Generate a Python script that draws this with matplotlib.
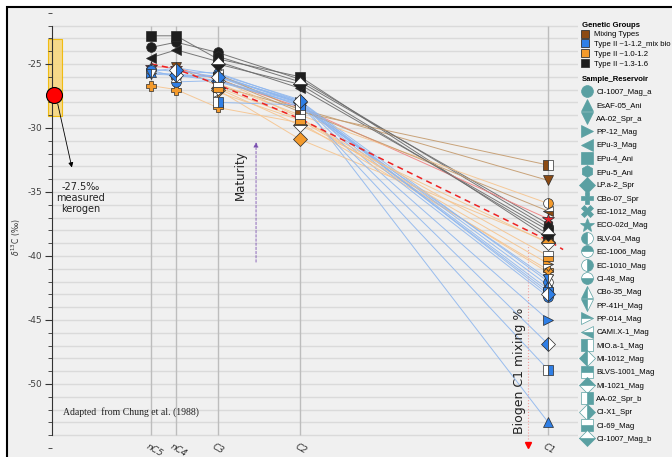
import matplotlib.pyplot as plt
import numpy as np
from matplotlib.lines import Line2D
from matplotlib.patches import Rectangle
from matplotlib.ticker import MultipleLocator

# Positions des gaz (1/n carbone)
carbons = ["nC5", "nC4", "C3", "C2", "C1"]
inv_n = [1 / 5, 1 / 4, 1 / 3, 1 / 2, 1.0]

groups = ["Mixing Types", "Type II ~1-1.2_mix bio", "Type II ~1.0-1.2", "Type II ~1.3-1.6"]
group_colors = {"mix": "#8c4a12", "blue": "#2f7fe6", "orange": "#f39a2c", "black": "#1e1e1e", "red": "#e8212b"}
line_colors = {"mix": "#c49a6c", "blue": "#8fb7ee", "orange": "#f6c48e", "black": "#6a6a6a", "red": "#f08080"}

samples = ["CI-1007_Mag_a", "EsAF-05_Ani", "AA-02_Spr_a", "PP-12_Mag", "EPu-3_Mag", "EPu-4_Ani",
           "EPu-5_Ani", "LP.a-2_Spr", "CBo-07_Spr", "EC-1012_Mag", "ECO-02d_Mag", "BLV-04_Mag",
           "EC-1006_Mag", "EC-1010_Mag", "CI-48_Mag", "CBo-35_Mag", "PP-41H_Mag", "PP-014_Mag",
           "CAMI.X-1_Mag", "MIO.a-1_Mag", "MI-1012_Mag", "BLVS-1001_Mag", "MI-1021_Mag",
           "AA-02_Spr_b", "CI-X1_Spr", "CI-69_Mag", "CI-1007_Mag_b"]
markers = ["o", "^", "v", ">", "<", "s", "h", "D", "P", "X", "*", "o", "o", "o", "o",
           "^", "v", ">", "<", "s", "D", "s", "D", "s", "D", "s", "D"]
fills = ["full"] * 11 + ["left", "top", "right", "bottom", "left", "left", "top", "bottom",
                         "left", "left", "top", "top", "right", "right", "bottom", "bottom"]
sample_group = ["black", "blue", "mix", "blue", "black", "black", "black", "orange", "orange",
                "orange", "red", "blue", "blue", "orange", "blue", "blue", "blue", "orange",
                "mix", "mix", "blue", "blue", "orange", "blue", "blue", "orange", "black"]

nan = np.nan
# d13C : nC5, nC4, C3, C2, C1
d13c = [
    [-23.7, -23.3, -24.1, -26.2, -37.8],
    [-25.6, -25.3, -25.8, -27.8, -53.0],
    [nan, -25.2, -26.7, -28.5, -34.1],
    [-25.7, -25.8, -26.0, -28.0, -45.0],
    [-24.5, -23.9, -24.8, -26.9, -38.0],
    [-22.8, -22.8, -24.6, -26.0, -38.6],
    [nan, nan, -24.4, -26.4, -37.5],
    [nan, nan, -27.0, -30.9, -38.9],
    [-26.7, -27.0, -28.4, -29.6, -41.1],
    [nan, nan, -26.1, -29.2, -41.3],
    [-25.2, -25.3, -26.2, -28.4, -37.1],
    [-25.4, -25.6, -25.7, -27.9, -42.0],
    [-25.5, -26.0, -25.9, -28.1, -42.6],
    [nan, nan, -26.5, -29.0, -35.9],
    [nan, -26.4, -26.3, -28.2, -43.2],
    [nan, nan, -25.9, -28.0, -42.3],
    [-25.8, nan, -26.0, -28.3, -41.8],
    [nan, nan, -27.2, -29.4, -40.6],
    [nan, nan, -25.8, -28.6, -36.5],
    [nan, nan, -26.1, -28.75, -32.9],
    [nan, -25.9, -26.3, -28.0, -46.9],
    [nan, nan, -26.4, -28.1, -42.8],
    [nan, nan, -26.9, -29.8, -39.0],
    [nan, nan, -28.0, -28.2, -48.9],
    [nan, -25.5, -26.0, -27.9, -43.0],
    [nan, nan, -26.8, -29.3, -40.0],
    [nan, nan, -25.0, -26.6, -38.3],
]

# courbe de reference (tirets rouges)
ref_x = [0.2, 0.25, 1 / 3, 0.5, 1.0, 1.03]
ref_y = [-25.0, -25.4, -26.6, -29.3, -38.8, -39.5]

kerogen = -27.4
kerogen_range = (-29.06, -23.05)

teal = "#5aa0a2"
bg = "#f0f0f0"

fig = plt.figure(figsize=(6.72, 4.57), dpi=100)
fig.patch.set_facecolor("white")
fig.add_artist(Rectangle((7 / 672, -0.01), 1, 1 - 7 / 457 + 0.01, transform=fig.transFigure,
                         facecolor=bg, edgecolor="black", lw=1.5, zorder=0))

ax = fig.add_axes([7 / 672, 7 / 457, 571 / 672, 443 / 457])
ax.set_facecolor("none")
ax.set_xlim(-0.091, 1.06)
ax.set_ylim(-55.16, -20.55)

for s in ["top", "right", "bottom"]:
    ax.spines[s].set_visible(False)
ax.spines["left"].set_position(("data", 0))
ax.spines["left"].set_bounds(-54, -22)
ax.spines["left"].set_color("#333333")
ax.set_xticks([])
ax.set_yticks(np.arange(-50, -24, 5))
ax.yaxis.set_minor_locator(MultipleLocator(1))
ax.tick_params(axis="y", which="major", length=5, labelsize=6.5, labelcolor="#404040",
               color="#333333", pad=2)
ax.tick_params(axis="y", which="minor", length=3, color="#333333")
ax.set_yticklabels([str(v) for v in np.arange(-50, -24, 5)])

ax.hlines(np.arange(-54, -21), 0, 1.06, color="#dadada", lw=1, zorder=0)
ax.vlines(inv_n, -54, -22, color="#bdbdbd", lw=1, zorder=0)

for x, lab in zip(inv_n, carbons):
    ax.text(x - 0.005, -54.5, lab, rotation=-30, ha="left", va="top", fontsize=6.5,
            style="italic", color="#333333", rotation_mode="anchor")

ax.text(-0.072, -38.5, r"$\delta^{13}$C (‰)", rotation=90, fontsize=5.5, ha="center", va="center",
        color="#333333")

# kerogène
ax.add_patch(Rectangle((-0.008, kerogen_range[0]), 0.028, kerogen_range[1] - kerogen_range[0],
                       facecolor="#f7d77e", edgecolor="#f0b800", lw=0.8, alpha=0.9, zorder=1))
ax.plot([0.003], [kerogen], "o", ms=11.5, mfc="red", mec="black", mew=0.8, zorder=5)
ax.annotate("", xy=(0.041, -33.3), xytext=(0.010, -27.9),
            arrowprops=dict(arrowstyle="-|>", color="black", lw=0.6, mutation_scale=7))
ax.text(0.057, -34.2, "-27.5‰\nmeasured\nkerogen", ha="center", va="top", fontsize=7,
        linespacing=1.15, color="#222222")

# lignes et points des échantillons
for vals, g in zip(d13c, sample_group):
    xs = np.array(inv_n)
    ys = np.array(vals)
    ok = ~np.isnan(ys)
    ax.plot(xs[ok], ys[ok], "-", color=line_colors[g], lw=0.7, alpha=0.9, zorder=2)
for vals, m, fs, g in zip(d13c, markers, fills, sample_group):
    xs = np.array(inv_n)
    ys = np.array(vals)
    ok = ~np.isnan(ys)
    ax.plot(xs[ok], ys[ok], ls="none", marker=m, fillstyle=fs, ms=7 if m != "*" else 9,
            mfc=group_colors[g], markerfacecoloralt="white", mec="#2a2a2a", mew=0.5, zorder=4)

ax.plot(ref_x, ref_y, ls=(0, (4, 3)), color="#ee2222", lw=1.1, zorder=3)

# maturité
ax.annotate("", xy=(0.411, -30.9), xytext=(0.411, -40.7),
            arrowprops=dict(arrowstyle="-|>", color="#7a4fb0", lw=0.6, ls=(0, (3, 2)),
                            mutation_scale=7))
ax.text(0.379, -33.7, "Maturity", rotation=90, ha="center", va="center", fontsize=8.5, color="#222222")

# biogène
ax.vlines(0.96, -54.3, -39.2, color="#f2a0a0", lw=0.8, linestyles=":", zorder=1)
ax.plot([0.96], [-54.8], "v", ms=4.5, color="red", zorder=5)
ax.text(0.942, -49.0, "Biogen C1 mixing %", rotation=90, ha="center", va="center",
        fontsize=9, color="#222222")

ax.text(0.022, -52.2, "Adapted  from Chung et al. (1988)", fontsize=7, family="Liberation Serif",
        ha="left", va="center", color="#222222")

# légendes
leg_font = {"family": "Liberation Sans", "size": 5.6}
leg_title = {"family": "Liberation Sans", "size": 5.6, "weight": "bold"}

g_handles = [Line2D([], [], ls="none", marker="s", ms=5.5, mfc=group_colors[k], mec="#333333", mew=0.6)
             for k in ["mix", "blue", "orange", "black"]]
leg1 = fig.legend(g_handles, groups, loc="upper left", bbox_to_anchor=(580 / 672, 1 - 20 / 457),
                  frameon=False, prop=leg_font, title="Genetic Groups",
                  title_fontproperties=leg_title, alignment="left",
                  labelspacing=0.3, handlelength=1.0, handletextpad=0.6, borderpad=0.2,
                  borderaxespad=0)

s_handles = [Line2D([], [], ls="none", marker=m, fillstyle=fs, ms=8.5 if m != "*" else 10.5,
                    mfc=teal, markerfacecoloralt="white", mec=teal, mew=0.5)
             for m, fs in zip(markers, fills)]
leg2 = fig.legend(s_handles, samples, loc="upper left", bbox_to_anchor=(580 / 672, 1 - 74 / 457),
                  frameon=False, prop=leg_font, title="Sample_Reservoir",
                  title_fontproperties=leg_title, alignment="left",
                  labelspacing=0.76, handlelength=1.3, handletextpad=0.6, borderpad=0.2,
                  borderaxespad=0)

fig.savefig("out.png", dpi=100, facecolor=fig.get_facecolor())
